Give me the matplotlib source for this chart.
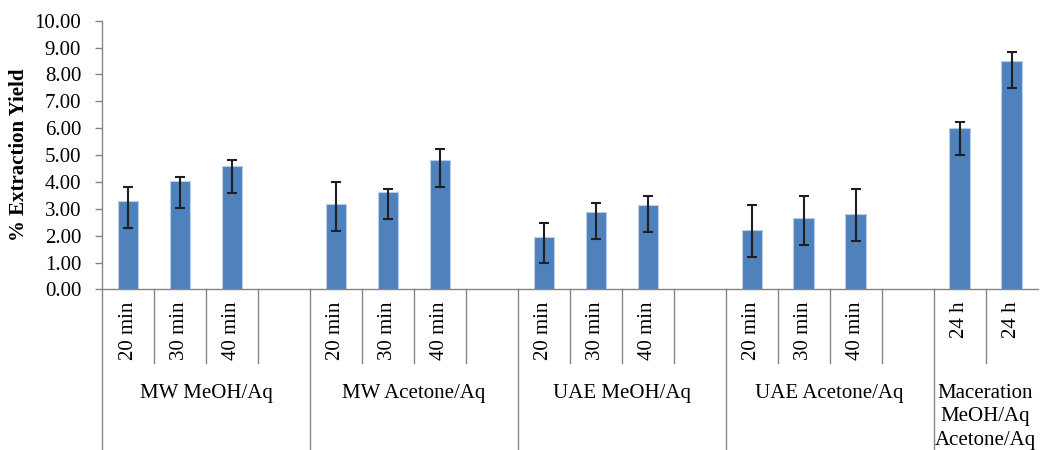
import numpy as np
import matplotlib.pyplot as plt

plt.rcParams['font.family'] = ['Liberation Serif', 'DejaVu Serif']

# extraction methods and the times within each
groups = ['MW MeOH/Aq', 'MW Acetone/Aq', 'UAE MeOH/Aq', 'UAE Acetone/Aq',
          'Maceration\nMeOH/Aq\nAcetone/Aq']
times = [['20 min', '30 min', '40 min'],
         ['20 min', '30 min', '40 min'],
         ['20 min', '30 min', '40 min'],
         ['20 min', '30 min', '40 min'],
         ['24 h', '24 h']]

# % yield per group
yield_mw_meoh = [3.28, 4.05, 4.58]
yield_mw_acetone = [3.18, 3.62, 4.81]
yield_uae_meoh = [1.97, 2.89, 3.13]
yield_uae_acetone = [2.22, 2.66, 2.80]
yield_maceration = [6.01, 8.50]

# error bars (Excel custom: fixed minus, varying plus)
err_plus = [0.52, 0.12, 0.23, 0.81, 0.10, 0.42, 0.52, 0.31, 0.33,
            0.91, 0.81, 0.92, 0.21, 0.32]
err_minus = [1.0] * 14

values = [yield_mw_meoh, yield_mw_acetone, yield_uae_meoh,
          yield_uae_acetone, yield_maceration]

# each group gets one slot per time plus an empty spacer slot (not the last group)
slots = []
xs = []
pos = 0
for gi, ts in enumerate(times):
    start = pos
    for t in ts:
        xs.append(pos + 0.5)
        pos += 1
    if gi < len(times) - 1:
        pos += 1
    slots.append((start, pos))
nslots = pos

ys = [v for grp in values for v in grp]

fig = plt.figure(figsize=(10.4, 4.5), dpi=100)
ax = fig.add_axes([0.0981, 0.3567, 0.8995, 0.5973])

ax.bar(xs, ys, width=0.39, color='#4F81BD', edgecolor='#B9CDE5', linewidth=0.8)
ax.errorbar(xs, ys, yerr=[err_minus, err_plus], fmt='none', ecolor='#1f1f1f',
            elinewidth=1.5, capsize=3.6, capthick=1.5)

ax.set_xlim(0, nslots)
ax.set_ylim(0, 10)
ax.set_yticks(np.arange(0, 11, 1))
ax.set_yticklabels(['%.2f' % v for v in np.arange(0, 11, 1)], fontsize=15)
ax.tick_params(axis='y', length=5, width=1, color='#868686', pad=10)
ax.set_xticks([])

for s in ['top', 'right']:
    ax.spines[s].set_visible(False)
for s in ['left', 'bottom']:
    ax.spines[s].set_color('#868686')
    ax.spines[s].set_linewidth(1)

trans = ax.get_xaxis_transform()
short_y = -0.273
long_y = -0.6

# separators: short between slots, long between groups
for gi, (a, b) in enumerate(slots):
    ax.plot([a, a], [0, long_y], transform=trans, color='#868686', lw=1, clip_on=False)
    for k in range(a + 1, b):
        ax.plot([k, k], [0, short_y], transform=trans, color='#868686', lw=1, clip_on=False)

# time labels
labels = [t for ts in times for t in ts]
for x, lab in zip(xs, labels):
    ax.text(x, -0.045, lab, transform=trans, rotation=90, ha='center', va='top', fontsize=15)

# group labels
for gi, (a, b) in enumerate(slots):
    ax.text((a + b) / 2, -0.35, groups[gi], transform=trans, ha='center', va='top',
            fontsize=15, linespacing=1.32)

fig.text(0.018, 0.3567 + 0.5973 / 2, '% Extraction Yield', rotation=90,
         ha='center', va='center', fontsize=15, fontweight='bold')

fig.savefig('out.png', dpi=100)
